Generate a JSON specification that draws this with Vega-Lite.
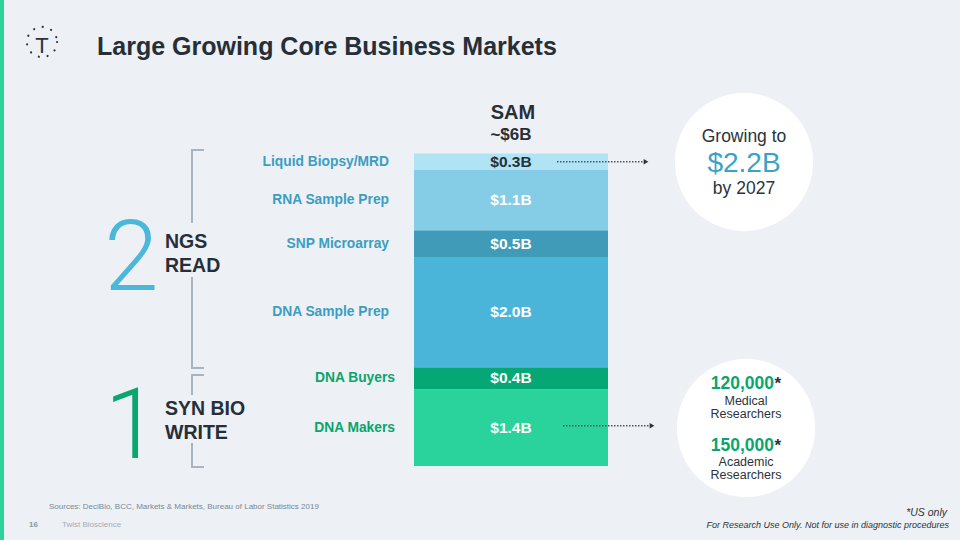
{
 "$schema": "https://vega.github.io/schema/vega-lite/v6.json",
 "width": 960, "height": 540,
 "autosize": {"type": "fit", "contains": "padding"},
 "padding": 0,
 "background": "#edf0f5",
 "config": {"view": {"stroke": null}, "font": "Liberation Sans"},
 "datasets": {
  "segments": [
   {"segment": "DNA Makers", "group": "SYN BIO WRITE", "value": 1.4, "label": "$1.4B", "order": 1},
   {"segment": "DNA Buyers", "group": "SYN BIO WRITE", "value": 0.4, "label": "$0.4B", "order": 2},
   {"segment": "DNA Sample Prep", "group": "NGS READ", "value": 2.0, "label": "$2.0B", "order": 3},
   {"segment": "SNP Microarray", "group": "NGS READ", "value": 0.5, "label": "$0.5B", "order": 4},
   {"segment": "RNA Sample Prep", "group": "NGS READ", "value": 1.1, "label": "$1.1B", "order": 5},
   {"segment": "Liquid Biopsy/MRD", "group": "NGS READ", "value": 0.3, "label": "$0.3B", "order": 6}
  ]
 },
 "data": {"values": [{"page": 16}]},
 "layer": [
  {"mark": {"type": "rect", "color": "#2bd49c"},
   "encoding": {
    "x": {"datum": 0, "type": "quantitative", "scale": {"domain": [0, 960], "nice": false, "zero": false}, "axis": null},
    "x2": {"datum": 4},
    "y": {"datum": -1.35, "type": "quantitative", "scale": {"domain": [-1.35, 8.5], "nice": false, "zero": false}, "axis": null},
    "y2": {"datum": 8.5}}},
  {"data": {"name": "segments"},
   "transform": [{"stack": "value", "groupby": [], "sort": [{"field": "order", "order": "ascending"}], "as": ["v0", "v1"]}],
   "mark": {"type": "rect"},
   "encoding": {
    "x": {"datum": 414, "type": "quantitative"}, "x2": {"datum": 608},
    "y": {"field": "v0", "type": "quantitative"}, "y2": {"field": "v1"},
    "color": {"field": "segment", "type": "nominal", "legend": null,
     "scale": {"domain": ["DNA Makers", "DNA Buyers", "DNA Sample Prep", "SNP Microarray", "RNA Sample Prep", "Liquid Biopsy/MRD"],
               "range": ["#2bd39c", "#05a874", "#4ab5d8", "#3f9bb8", "#85cde6", "#b0e3f4"]}}}},
  {"data": {"name": "segments"},
   "transform": [{"stack": "value", "groupby": [], "sort": [{"field": "order", "order": "ascending"}], "as": ["v0", "v1"]}, {"calculate": "(datum.v0 + datum.v1) / 2", "as": "mid"}],
   "mark": {"type": "text", "fontSize": 15.5, "fontWeight": "bold", "align": "center", "baseline": "middle"},
   "encoding": {
    "x": {"datum": 511, "type": "quantitative"},
    "y": {"field": "mid", "type": "quantitative"},
    "text": {"field": "label"},
    "color": {"condition": {"test": "datum.segment === 'Liquid Biopsy/MRD'", "value": "#253038"}, "value": "#ffffff"}}},
  {"data": {"name": "segments"},
   "transform": [{"stack": "value", "groupby": [], "sort": [{"field": "order", "order": "ascending"}], "as": ["v0", "v1"]}, {"calculate": "(datum.v0 + datum.v1) / 2", "as": "mid"}, {"filter": "datum.group === 'NGS READ'"}],
   "mark": {"type": "text", "fontSize": 13.8, "fontWeight": "bold", "align": "right", "baseline": "middle", "color": "#3b9ec1"},
   "encoding": {
    "x": {"datum": 389, "type": "quantitative"},
    "y": {"field": "mid", "type": "quantitative"},
    "text": {"field": "segment"}}},
  {"data": {"name": "segments"},
   "transform": [{"stack": "value", "groupby": [], "sort": [{"field": "order", "order": "ascending"}], "as": ["v0", "v1"]}, {"calculate": "(datum.v0 + datum.v1) / 2", "as": "mid"}, {"filter": "datum.group === 'SYN BIO WRITE'"}],
   "mark": {"type": "text", "fontSize": 13.8, "fontWeight": "bold", "align": "right", "baseline": "middle", "color": "#0aa46d"},
   "encoding": {
    "x": {"datum": 395, "type": "quantitative"},
    "y": {"field": "mid", "type": "quantitative"},
    "text": {"field": "segment"}}},
  {"mark": {"type": "point", "shape": "circle", "filled": true, "color": "#ffffff", "opacity": 1, "size": 19113},
   "encoding": {"x": {"datum": 744, "type": "quantitative"}, "y": {"datum": 5.545, "type": "quantitative"}}},
  {"mark": {"type": "point", "shape": "circle", "filled": true, "color": "#ffffff", "opacity": 1, "size": 19113},
   "encoding": {"x": {"datum": 746, "type": "quantitative"}, "y": {"datum": 0.693, "type": "quantitative"}}},
  {"mark": {"type": "point", "shape": "circle", "filled": false, "stroke": "#2b343c", "opacity": 1, "strokeWidth": 2.2, "strokeDash": [0.01, 8.9], "strokeCap": "round", "size": 908},
   "encoding": {"x": {"datum": 42, "type": "quantitative"}, "y": {"datum": 7.734, "type": "quantitative"}}},
  {"mark": {"type": "rule", "color": "#4a5560", "strokeWidth": 1.5, "strokeDash": [1.5, 1.5]},
   "encoding": {"x": {"datum": 557, "type": "quantitative"}, "x2": {"datum": 643}, "y": {"datum": 5.551, "type": "quantitative"}}},
  {"mark": {"type": "point", "shape": "triangle-right", "filled": true, "color": "#2b343c", "opacity": 1, "size": 30},
   "encoding": {"x": {"datum": 646, "type": "quantitative"}, "y": {"datum": 5.551, "type": "quantitative"}}},
  {"mark": {"type": "rule", "color": "#4a5560", "strokeWidth": 1.5, "strokeDash": [1.5, 1.5]},
   "encoding": {"x": {"datum": 563, "type": "quantitative"}, "x2": {"datum": 649}, "y": {"datum": 0.735, "type": "quantitative"}}},
  {"mark": {"type": "point", "shape": "triangle-right", "filled": true, "color": "#2b343c", "opacity": 1, "size": 30},
   "encoding": {"x": {"datum": 652, "type": "quantitative"}, "y": {"datum": 0.735, "type": "quantitative"}}},
  {"mark": {"type": "rule", "color": "#a9b4be", "strokeWidth": 2},
   "encoding": {"x": {"datum": 192, "type": "quantitative"}, "y": {"datum": 5.764, "type": "quantitative"}, "y2": {"datum": 4.433}}},
  {"mark": {"type": "rule", "color": "#a9b4be", "strokeWidth": 2},
   "encoding": {"x": {"datum": 192, "type": "quantitative"}, "y": {"datum": 3.448, "type": "quantitative"}, "y2": {"datum": 1.788}}},
  {"mark": {"type": "rule", "color": "#a9b4be", "strokeWidth": 2},
   "encoding": {"x": {"datum": 191, "type": "quantitative"}, "x2": {"datum": 204}, "y": {"datum": 5.764, "type": "quantitative"}}},
  {"mark": {"type": "rule", "color": "#a9b4be", "strokeWidth": 2},
   "encoding": {"x": {"datum": 191, "type": "quantitative"}, "x2": {"datum": 204}, "y": {"datum": 1.788, "type": "quantitative"}}},
  {"mark": {"type": "rule", "color": "#a9b4be", "strokeWidth": 2},
   "encoding": {"x": {"datum": 192, "type": "quantitative"}, "y": {"datum": 1.660, "type": "quantitative"}, "y2": {"datum": 1.295}}},
  {"mark": {"type": "rule", "color": "#a9b4be", "strokeWidth": 2},
   "encoding": {"x": {"datum": 192, "type": "quantitative"}, "y": {"datum": 0.419, "type": "quantitative"}, "y2": {"datum": -0.018}}},
  {"mark": {"type": "rule", "color": "#a9b4be", "strokeWidth": 2},
   "encoding": {"x": {"datum": 191, "type": "quantitative"}, "x2": {"datum": 204}, "y": {"datum": 1.660, "type": "quantitative"}}},
  {"mark": {"type": "rule", "color": "#a9b4be", "strokeWidth": 2},
   "encoding": {"x": {"datum": 191, "type": "quantitative"}, "x2": {"datum": 204}, "y": {"datum": -0.018, "type": "quantitative"}}},
  {"mark": {"type": "text", "text": "Large Growing Core Business Markets", "fontSize": 25, "fontWeight": "bold", "color": "#262f38", "align": "left", "baseline": "alphabetic"},
   "encoding": {"x": {"datum": 97, "type": "quantitative"}, "y": {"datum": 7.497, "type": "quantitative"}}},
  {"mark": {"type": "text", "text": "T", "fontSize": 22, "color": "#2b343c", "align": "center", "baseline": "alphabetic"},
   "encoding": {"x": {"datum": 42, "type": "quantitative"}, "y": {"datum": 7.534, "type": "quantitative"}}},
  {"mark": {"type": "text", "text": "SAM", "fontSize": 20, "fontWeight": "bold", "color": "#262f38", "align": "center", "baseline": "alphabetic"},
   "encoding": {"x": {"datum": 513, "type": "quantitative"}, "y": {"datum": 6.330, "type": "quantitative"}}},
  {"mark": {"type": "text", "text": "~$6B", "fontSize": 17, "fontWeight": "bold", "color": "#262f38", "align": "center", "baseline": "alphabetic"},
   "encoding": {"x": {"datum": 511, "type": "quantitative"}, "y": {"datum": 5.947, "type": "quantitative"}}},
  {"mark": {"type": "text", "text": ["NGS", "READ"], "lineHeight": 24, "fontSize": 19.5, "fontWeight": "bold", "color": "#262f38", "align": "left", "baseline": "alphabetic"},
   "encoding": {"x": {"datum": 165, "type": "quantitative"}, "y": {"datum": 3.977, "type": "quantitative"}}},
  {"mark": {"type": "text", "text": ["SYN BIO", "WRITE"], "lineHeight": 24, "fontSize": 19.5, "fontWeight": "bold", "color": "#262f38", "align": "left", "baseline": "alphabetic"},
   "encoding": {"x": {"datum": 165, "type": "quantitative"}, "y": {"datum": 0.930, "type": "quantitative"}}},
  {"mark": {"type": "text", "text": "2", "font": "Roboto", "fontWeight": 300, "fontSize": 98, "color": "#4bb8db", "align": "center", "baseline": "alphabetic"},
   "encoding": {"x": {"datum": 131.5, "type": "quantitative"}, "y": {"datum": 3.211, "type": "quantitative"}}},
  {"mark": {"type": "text", "text": "1", "font": "Roboto", "fontWeight": 300, "fontSize": 99, "color": "#09a66f", "align": "center", "baseline": "alphabetic"},
   "encoding": {"x": {"datum": 132, "type": "quantitative"}, "y": {"datum": 0.146, "type": "quantitative"}}},
  {"mark": {"type": "text", "text": "Growing to", "fontSize": 17.5, "color": "#2b343c", "align": "center", "baseline": "alphabetic"},
   "encoding": {"x": {"datum": 744, "type": "quantitative"}, "y": {"datum": 5.916, "type": "quantitative"}}},
  {"mark": {"type": "text", "text": "$2.2B", "fontSize": 28, "color": "#3aa2c6", "align": "center", "baseline": "alphabetic"},
   "encoding": {"x": {"datum": 744, "type": "quantitative"}, "y": {"datum": 5.368, "type": "quantitative"}}},
  {"mark": {"type": "text", "text": "by 2027", "fontSize": 17.5, "color": "#2b343c", "align": "center", "baseline": "alphabetic"},
   "encoding": {"x": {"datum": 744, "type": "quantitative"}, "y": {"datum": 4.953, "type": "quantitative"}}},
  {"mark": {"type": "text", "text": "120,000", "fontSize": 17.5, "fontWeight": "bold", "color": "#0aa56f", "align": "right", "baseline": "alphabetic"},
   "encoding": {"x": {"datum": 774, "type": "quantitative"}, "y": {"datum": 1.405, "type": "quantitative"}}},
  {"mark": {"type": "text", "text": "*", "fontSize": 17, "fontWeight": "bold", "color": "#2b343c", "align": "left", "baseline": "alphabetic"},
   "encoding": {"x": {"datum": 774.5, "type": "quantitative"}, "y": {"datum": 1.405, "type": "quantitative"}}},
  {"mark": {"type": "text", "text": ["Medical", "Researchers"], "lineHeight": 13, "fontSize": 12.5, "color": "#2b343c", "align": "center", "baseline": "alphabetic"},
   "encoding": {"x": {"datum": 746, "type": "quantitative"}, "y": {"datum": 1.107, "type": "quantitative"}}},
  {"mark": {"type": "text", "text": "150,000", "fontSize": 17.5, "fontWeight": "bold", "color": "#0aa56f", "align": "right", "baseline": "alphabetic"},
   "encoding": {"x": {"datum": 774, "type": "quantitative"}, "y": {"datum": 0.279, "type": "quantitative"}}},
  {"mark": {"type": "text", "text": "*", "fontSize": 17, "fontWeight": "bold", "color": "#2b343c", "align": "left", "baseline": "alphabetic"},
   "encoding": {"x": {"datum": 774.5, "type": "quantitative"}, "y": {"datum": 0.279, "type": "quantitative"}}},
  {"mark": {"type": "text", "text": ["Academic", "Researchers"], "lineHeight": 13, "fontSize": 12.5, "color": "#2b343c", "align": "center", "baseline": "alphabetic"},
   "encoding": {"x": {"datum": 746, "type": "quantitative"}, "y": {"datum": 0.0, "type": "quantitative"}}},
  {"mark": {"type": "text", "text": "Sources: DeciBio, BCC, Markets & Markets, Bureau of Labor Statistics 2019", "fontSize": 8, "color": "#7b8794", "align": "left", "baseline": "alphabetic"},
   "encoding": {"x": {"datum": 49, "type": "quantitative"}, "y": {"datum": -0.784, "type": "quantitative"}}},
  {"mark": {"type": "text", "text": "16", "fontSize": 8, "fontWeight": "bold", "color": "#8a96a2", "align": "left", "baseline": "alphabetic"},
   "encoding": {"x": {"datum": 29, "type": "quantitative"}, "y": {"datum": -1.113, "type": "quantitative"}}},
  {"mark": {"type": "text", "text": "Twist Bioscience", "fontSize": 8, "color": "#a3adb8", "align": "left", "baseline": "alphabetic"},
   "encoding": {"x": {"datum": 62, "type": "quantitative"}, "y": {"datum": -1.113, "type": "quantitative"}}},
  {"mark": {"type": "text", "text": "*US only", "fontSize": 10.5, "fontStyle": "italic", "color": "#2b343c", "align": "right", "baseline": "alphabetic"},
   "encoding": {"x": {"datum": 947, "type": "quantitative"}, "y": {"datum": -0.907, "type": "quantitative"}}},
  {"mark": {"type": "text", "text": "For Research Use Only. Not for use in diagnostic procedures", "fontSize": 9, "fontStyle": "italic", "color": "#2b343c", "align": "right", "baseline": "alphabetic"},
   "encoding": {"x": {"datum": 949, "type": "quantitative"}, "y": {"datum": -1.137, "type": "quantitative"}}}
 ]
}
